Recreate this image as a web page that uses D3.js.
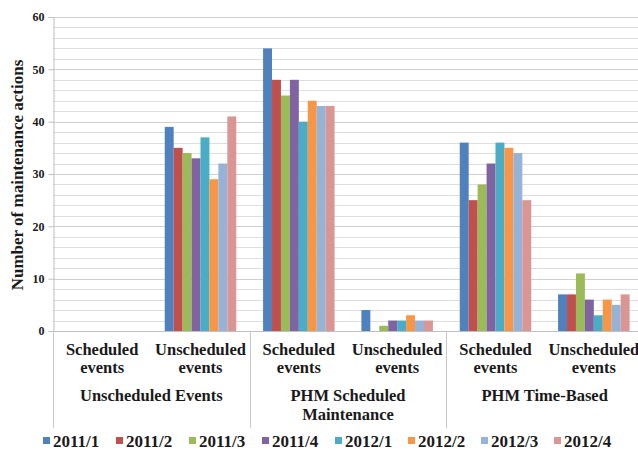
<!DOCTYPE html>
<html>
<head>
<meta charset="utf-8">
<script src="https://cdn.jsdelivr.net/npm/d3@7"></script>
<style>
  html, body { margin: 0; padding: 0; background: #fff; }
  svg { display: block; }
  text, tspan { font-family: "Liberation Serif", "Times New Roman", serif; font-weight: bold; fill: #1a1a1a; }
</style>
</head>
<body>
<svg id="chart" width="638" height="452"></svg>
<script>
// ---- data ----
const subcategories = [
  ["Scheduled", "events"], ["Unscheduled", "events"],
  ["Scheduled", "events"], ["Unscheduled", "events"],
  ["Scheduled", "events"], ["Unscheduled", "events"]
];
const groups = [["Unscheduled Events"], ["PHM Scheduled", "Maintenance"], ["PHM Time-Based"]];
const seriesNames = ["2011/1", "2011/2", "2011/3", "2011/4", "2012/1", "2012/2", "2012/3", "2012/4"];
const s2011_1 = [null, 39, 54, 4, 36, 7];
const s2011_2 = [null, 35, 48, 0, 25, 7];
const s2011_3 = [null, 34, 45, 1, 28, 11];
const s2011_4 = [null, 33, 48, 2, 32, 6];
const s2012_1 = [null, 37, 40, 2, 36, 3];
const s2012_2 = [null, 29, 44, 3, 35, 6];
const s2012_3 = [null, 32, 43, 2, 34, 5];
const s2012_4 = [null, 41, 43, 2, 25, 7];
const seriesValues = [s2011_1, s2011_2, s2011_3, s2011_4, s2012_1, s2012_2, s2012_3, s2012_4];
const yTicks = [0, 10, 20, 30, 40, 50, 60];
const colors = ["#4F81BD", "#C0504D", "#9BBB59", "#8064A2", "#4BACC6", "#F79646", "#95B3D7", "#D99694"];

// ---- layout ----
const FONT = "'Liberation Serif', 'Times New Roman', serif";
const svg = d3.select("#chart");
const mLeft = 53, mRight = 643, mTop = 17, mBottom = 331;

const x0 = d3.scaleBand().domain(d3.range(subcategories.length)).range([mLeft, mRight]).padding(0);
const bw = x0.bandwidth();
const x1 = d3.scaleBand().domain(seriesNames).range([bw * 1.5 / 11, bw * 9.5 / 11]).padding(0);
const y = d3.scaleLinear().domain([0, 60]).range([mBottom, mTop]);
const color = d3.scaleOrdinal().domain(seriesNames).range(colors);

// gridlines
svg.append("g").selectAll("line")
  .data(d3.range(2, 61, 2))
  .join("line")
  .attr("x1", mLeft).attr("x2", mRight)
  .attr("y1", d => Math.round(y(d)) + 0.5).attr("y2", d => Math.round(y(d)) + 0.5)
  .attr("stroke", d => d % 10 === 0 ? "#cfcfcf" : "#dedede")
  .attr("stroke-width", 1);

// y axis
const yAxis = svg.append("g")
  .attr("transform", `translate(${mLeft + 0.5},0)`)
  .call(d3.axisLeft(y).tickValues(yTicks).tickSize(5).tickPadding(4).tickFormat(d3.format("d")));
yAxis.attr("font-family", FONT);
yAxis.select(".domain").attr("stroke", "#bfbfbf");
yAxis.selectAll(".tick line").attr("stroke", "#bfbfbf");
yAxis.selectAll(".tick text").style("font-size", "12px").style("font-family", FONT).style("font-weight", "bold").attr("fill", "#1a1a1a");

// bars
const barG = svg.append("g");
seriesNames.forEach((name, si) => {
  barG.append("g").selectAll("rect")
    .data(seriesValues[si].map((v, ci) => ({ v, ci })).filter(d => d.v !== null))
    .join("rect")
    .attr("x", d => x0(d.ci) + x1(name))
    .attr("width", x1.bandwidth())
    .attr("y", d => y(d.v))
    .attr("height", d => y(0) - y(d.v))
    .attr("fill", color(name));
});

// baseline
svg.append("line")
  .attr("x1", mLeft).attr("x2", mRight)
  .attr("y1", mBottom + 0.5).attr("y2", mBottom + 0.5)
  .attr("stroke", "#bfbfbf");

// group separators
const sepIdx = [0, 2, 4, 6];
svg.append("g").selectAll("line")
  .data(sepIdx)
  .join("line")
  .attr("x1", d => Math.round(d < 6 ? x0(d) : mRight) + 0.5)
  .attr("x2", d => Math.round(d < 6 ? x0(d) : mRight) + 0.5)
  .attr("y1", mBottom).attr("y2", 428)
  .attr("stroke", "#c8c8c8");

// subcategory labels
const subG = svg.append("g");
subcategories.forEach((lines, ci) => {
  const t = subG.append("text")
    .attr("x", x0(ci) + bw / 2)
    .attr("y", 355)
    .attr("text-anchor", "middle")
    .style("font-family", FONT)
    .style("font-size", "16.5px");
  lines.forEach((ln, li) => {
    t.append("tspan").attr("x", x0(ci) + bw / 2).attr("dy", li === 0 ? 0 : 18)
      .style("font-family", FONT).text(ln);
  });
});

// group labels
groups.forEach((lines, gi) => {
  const cx = x0(gi * 2) + bw;
  const t = svg.append("text")
    .attr("x", cx).attr("y", 401)
    .attr("text-anchor", "middle")
    .style("font-family", FONT)
    .style("font-size", "16.5px");
  lines.forEach((ln, li) => {
    t.append("tspan").attr("x", cx).attr("dy", li === 0 ? 0 : 19)
      .style("font-family", FONT).text(ln);
  });
});

// y title
svg.append("text")
  .attr("transform", "translate(23,175) rotate(-90)")
  .attr("text-anchor", "middle")
  .style("font-family", FONT)
  .style("font-size", "17px")
  .text("Number of maintenance actions");

// legend
const legend = svg.append("g");
seriesNames.forEach((name, i) => {
  const lx = 43 + i * 73;
  legend.append("rect").attr("x", lx).attr("y", 437).attr("width", 7).attr("height", 7).attr("fill", color(name));
  legend.append("text").attr("x", lx + 10).attr("y", 447)
    .style("font-family", FONT).style("font-size", "17px").text(name);
});
</script>
</body>
</html>
